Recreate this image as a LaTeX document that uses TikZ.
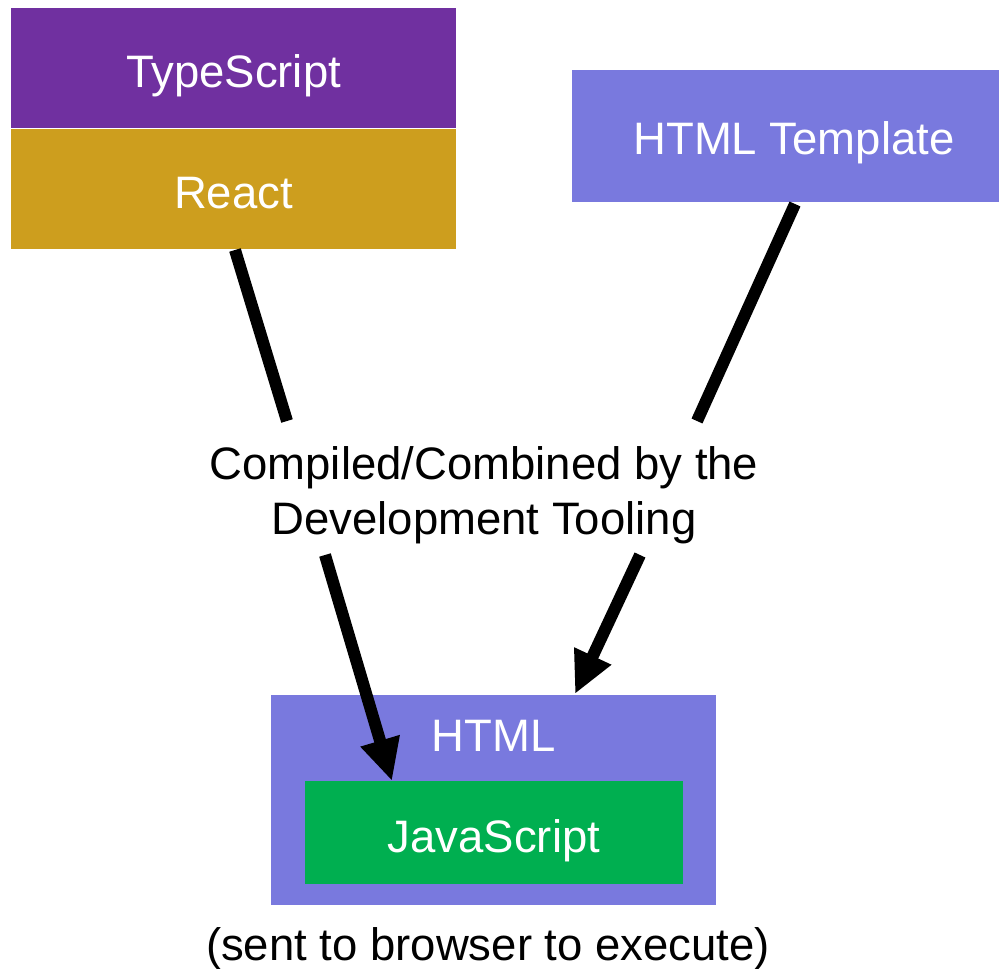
\documentclass[tikz,border=0pt]{standalone}
\usepackage{fontspec}
\setmainfont{Liberation Sans}
\usetikzlibrary{arrows.meta}
\definecolor{tspurple}{HTML}{7030A0}
\definecolor{reactgold}{HTML}{CD9E1E}
\definecolor{htmlblue}{HTML}{7979DE}
\definecolor{jsgreen}{HTML}{00AF50}
\tikzset{
  box/.style={rectangle, inner sep=0pt},
  boxtext/.style={inner sep=0pt, text=white, text height=32.6pt, text depth=0pt, font=\fontsize{45.5}{55}\selectfont},
  conn/.style={line width=12pt, line cap=butt},
  arr/.style={conn, -{Triangle[length=42pt,width=38pt]}},
  lbl/.style={inner sep=0pt, align=center, font=\fontsize{45.5}{55}\selectfont}
}
\begin{document}
\begin{tikzpicture}[x=1pt,y=-1pt]
\useasboundingbox (0,0) rectangle (999,969);
\node[box, fill=tspurple, minimum width=445pt, minimum height=120pt] (ts) at (233.5,68) {};
\node[boxtext] (tstxt) at (233.5,71) {TypeScript};
\node[box, fill=reactgold, minimum width=445pt, minimum height=120pt] (react) at (233.5,189) {};
\node[boxtext] (reacttxt) at (233.5,192) {React};
\node[box, fill=htmlblue, minimum width=427pt, minimum height=132pt] (tmpl) at (785.5,136) {};
\node[boxtext] (tmpltxt) at (794,138) {HTML Template};
\node[box, fill=htmlblue, minimum width=445pt, minimum height=210pt] (html) at (493.5,800) {};
\node[boxtext] (htmltxt) at (493.5,735.5) {HTML};
\node[box, fill=jsgreen, minimum width=378pt, minimum height=103pt] (js) at (494,832.5) {};
\node[boxtext] (jstxt) at (494,836) {JavaScript};
\node[lbl] (tool) at (484,495) {Compiled/Combined by the\\Development Tooling};
\node[lbl] (sent) at (488,949) {(sent to browser to execute)};
\coordinate (r0) at (235,250);
\coordinate (r1) at (287,421);
\coordinate (t0) at (795,204);
\coordinate (t1) at (697,421);
\coordinate (a0) at (325,555);
\coordinate (a1) at (392,781);
\coordinate (b0) at (640,555);
\coordinate (b1) at (575,694);
\draw[conn] (r0) -- (r1);
\draw[conn] (t0) -- (t1);
\draw[arr] (a0) -- (a1);
\draw[arr] (b0) -- (b1);
\end{tikzpicture}
\end{document}
